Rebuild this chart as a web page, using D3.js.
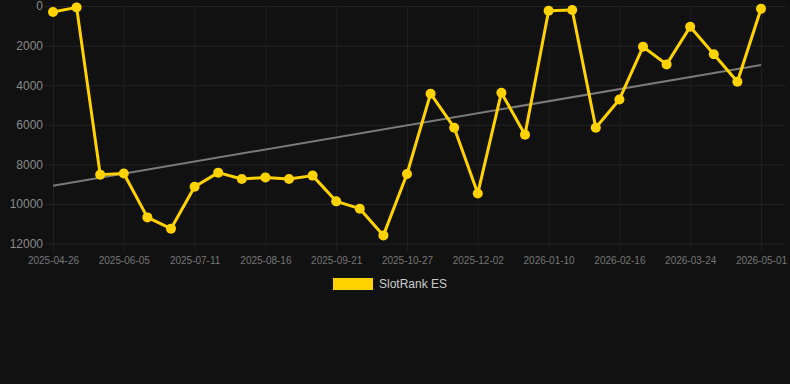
<!DOCTYPE html>
<html>
<head>
<meta charset="utf-8">
<script src="https://cdn.jsdelivr.net/npm/d3@7"></script>
<style>
  html, body { margin: 0; padding: 0; background: #111111; }
  svg { display: block; font-family: Arial, "Liberation Sans", Helvetica, sans-serif; }
</style>
</head>
<body>
<div id="chart"></div>
<script>
  // dates of each sample (only every third one is labelled)
  var dates = [
    "2025-04-26", "2025-05-09", "2025-05-22", "2025-06-05", "2025-06-17", "2025-06-29",
    "2025-07-11", "2025-07-23", "2025-08-04", "2025-08-16", "2025-08-28", "2025-09-09",
    "2025-09-21", "2025-10-03", "2025-10-15", "2025-10-27", "2025-11-08", "2025-11-20",
    "2025-12-02", "2025-12-15", "2025-12-28", "2026-01-10", "2026-01-22", "2026-02-03",
    "2026-02-16", "2026-02-28", "2026-03-12", "2026-03-24", "2026-04-06", "2026-04-18",
    "2026-05-01"
  ];
  // SlotRank ES rank values
  var ranks = [
    300, 70, 8520, 8460, 10680, 11250, 9130, 8420, 8740, 8660, 8740, 8570,
    9870, 10240, 11590, 8490, 4430, 6150, 9470, 4380, 6500, 240, 200, 6150,
    4720, 2060, 2950, 1050, 2440, 3830, 140
  ];
  // trend line, value at first and last date
  var trendEnds = [9080, 2980];
  var yTicks = [0, 2000, 4000, 6000, 8000, 10000, 12000];
  var seriesName = "SlotRank ES";

  (function () {
    var W = 790, H = 384;
    var m = {left: 53, right: 761, top: 6, bottom: 243.5};

    var svg = d3.select("#chart").append("svg")
      .attr("width", W)
      .attr("height", H);

    svg.append("rect").attr("width", W).attr("height", H).attr("fill", "#111111");

    var x = d3.scalePoint().domain(dates).range([m.left, m.right]);
    var y = d3.scaleLinear().domain([0, 12000]).range([m.top, m.bottom]);

    // horizontal grid lines + y labels
    var yAxis = svg.append("g")
      .attr("transform", "translate(" + m.left + ",0)")
      .call(d3.axisLeft(y).tickValues(yTicks).tickSize(8).tickPadding(2)
        .tickFormat(function (d) { return d; }));
    yAxis.select(".domain").remove();
    yAxis.selectAll(".tick line")
      .attr("x2", 785 - m.left)
      .attr("x1", -8)
      .attr("stroke", "#232323");
    yAxis.selectAll(".tick text")
      .attr("fill", "#8a8a8a")
      .attr("font-size", 12)
      .attr("font-family", "Arial, 'Liberation Sans', sans-serif");

    // vertical grid lines + x labels
    var labelled = dates.filter(function (d, i) { return i % 3 === 0; });
    var xAxis = svg.append("g")
      .attr("transform", "translate(0," + m.bottom + ")")
      .call(d3.axisBottom(x).tickValues(labelled).tickSize(8).tickPadding(5));
    xAxis.select(".domain").remove();
    xAxis.selectAll(".tick line")
      .attr("y1", m.top - m.bottom)
      .attr("y2", 8)
      .attr("stroke", "#1f1f1f");
    xAxis.selectAll(".tick text")
      .attr("fill", "#777777")
      .attr("font-size", 10)
      .attr("font-family", "Arial, 'Liberation Sans', sans-serif");

    // trend line
    svg.append("line")
      .attr("x1", x(dates[0]))
      .attr("y1", y(trendEnds[0]))
      .attr("x2", x(dates[dates.length - 1]))
      .attr("y2", y(trendEnds[1]))
      .attr("stroke", "#7a7a7a")
      .attr("stroke-width", 2);

    // the series line
    var line = d3.line()
      .x(function (d, i) { return x(dates[i]); })
      .y(function (d) { return y(d); });

    svg.append("path")
      .datum(ranks)
      .attr("fill", "none")
      .attr("stroke", "#ffd200")
      .attr("stroke-width", 3)
      .attr("stroke-linejoin", "round")
      .attr("d", line);

    svg.selectAll("circle.pt")
      .data(ranks)
      .enter().append("circle")
      .attr("class", "pt")
      .attr("r", 5)
      .attr("cx", function (d, i) { return x(dates[i]); })
      .attr("cy", function (d) { return y(d); })
      .attr("fill", "#ffd200");

    // legend
    var legend = svg.append("g").attr("transform", "translate(333,278)");
    legend.append("rect")
      .attr("width", 40)
      .attr("height", 12)
      .attr("fill", "#ffd200");
    legend.append("text")
      .attr("x", 46)
      .attr("y", 6)
      .attr("dy", "0.35em")
      .attr("fill", "#cccccc")
      .attr("font-size", 12)
      .text(seriesName);
  })();
</script>
</body>
</html>
